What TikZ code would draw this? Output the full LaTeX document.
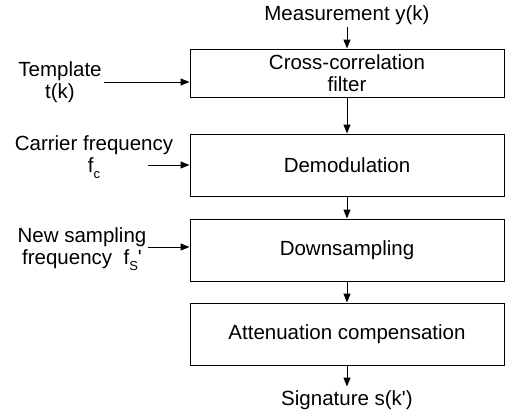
\documentclass[tikz,border=0pt]{standalone}
\usepackage{fontspec}
\setmainfont{Liberation Sans}
\usetikzlibrary{positioning,arrows.meta}

\newcommand{\lowsub}[1]{\raisebox{-0.5ex}{\fontsize{13}{13}\selectfont #1}}

\begin{document}
\begin{tikzpicture}[>={Triangle[length=9pt,width=7pt]}, x=1pt, y=1pt,
    font=\fontsize{20.5}{22}\selectfont, line width=1pt,
    blk/.style={draw, minimum width=314pt, minimum height=62pt, align=center}]
  \useasboundingbox (0,0) rectangle (513,-416);

  % processing chain
  \node (xcorr) [blk, minimum height=48pt] at (347,-73)
    {Cross-correlation\\filter};
  \node (demod) [blk, below=36pt of xcorr] {Demodulation};
  \node (down)  [blk, below=22pt of demod] {Downsampling};
  \node (atten) [blk, below=21pt of down]  {Attenuation compensation};

  \node (meas) [inner sep=1pt, above=22pt of xcorr] {Measurement y(k)};
  \node (sig)  [inner xsep=1pt, inner ysep=4pt, below=21pt of atten]
    {Signature s(k\textquotesingle)};

  % side inputs
  \node (tmpl)  [align=center, inner sep=2pt] at (60,-82) {Template\\t(k)};
  \node (carr)  [align=center] at (94,-157) {Carrier frequency\\f\lowsub{c}};
  \node (newfs) [align=center] at (82,-249)
    {New sampling\\frequency\ \ f\lowsub{S}\textquotesingle};
  \coordinate (cin) at (148,-165);
  \coordinate (nin) at (148,-247);

  \draw[->] (meas) -- (xcorr);
  \draw[->] (xcorr) -- (demod);
  \draw[->] (demod) -- (down);
  \draw[->] (down) -- (atten);
  \draw[->] (atten) -- (sig);

  \draw[->] (tmpl.east) -- (tmpl.east -| xcorr.west);
  \draw[->] (cin) -- (cin -| demod.west);
  \draw[->] (nin) -- (nin -| down.west);
\end{tikzpicture}
\end{document}
